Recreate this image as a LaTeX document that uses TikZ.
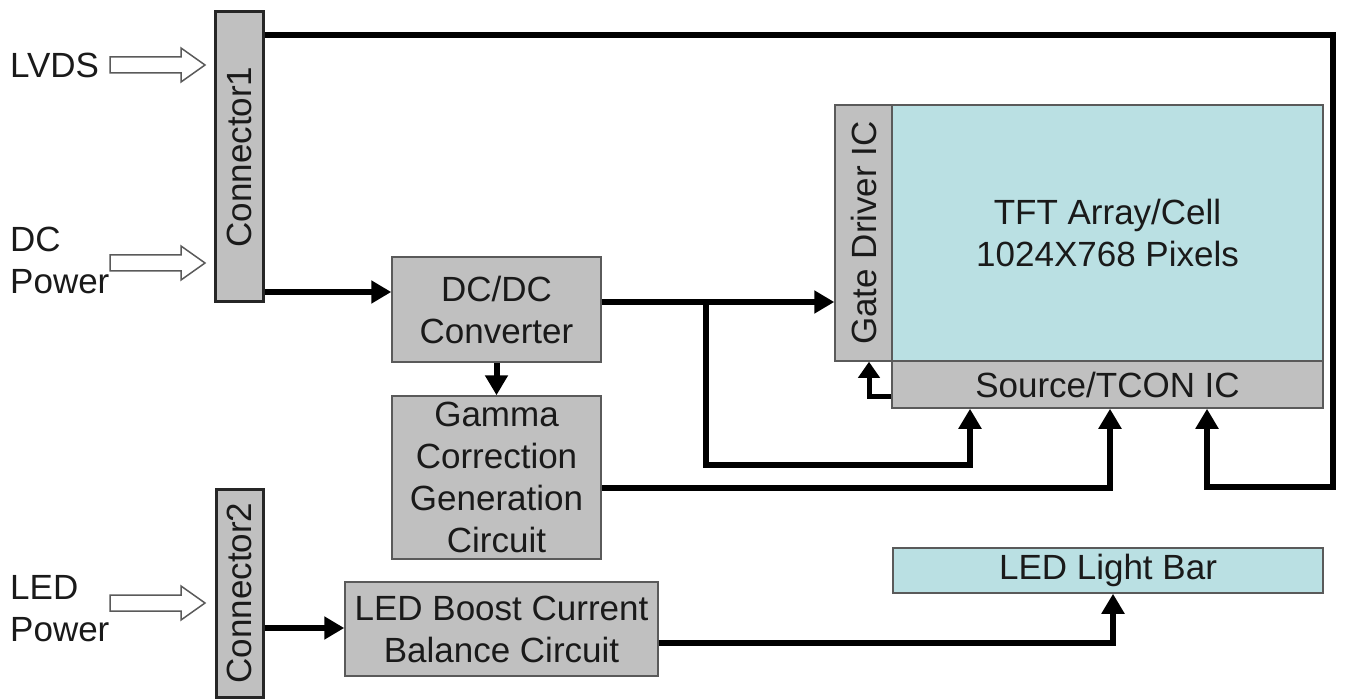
\documentclass[tikz,border=0pt]{standalone}
\usepackage{fontspec}
\setmainfont{Liberation Sans}
\usetikzlibrary{arrows.meta,calc}
\definecolor{boxgray}{HTML}{C0C0C0}
\definecolor{panelcyan}{HTML}{BAE0E3}
\definecolor{edgegray}{HTML}{5A5A5A}
\definecolor{txt}{HTML}{1A1A1A}
\begin{document}
\begin{tikzpicture}[x=1pt,y=-1pt,
  every node/.style={font=\fontsize{35}{42}\selectfont, text=txt},
  blk/.style={draw=edgegray, line width=1.5pt, fill=boxgray, inner sep=0pt, align=center},
  panel/.style={blk, fill=panelcyan},
  connbox/.style={draw=black!85, line width=3pt, fill=boxgray, inner sep=0pt},
  conn/.style={line width=6pt, -{Triangle[length=20pt,width=22pt]}},
  hollow/.style={draw=edgegray, line width=1.5pt, fill=white},
  lbl/.style={anchor=west, align=left, inner sep=0pt}
]
\useasboundingbox (0,0) rectangle (1351,700);

% boxes
\node[connbox, minimum width=48pt, minimum height=290pt] (conn1) at (239,157) {\rotatebox{90}{Connector1}};
\node[connbox, minimum width=47pt, minimum height=208pt] (conn2) at (239.5,593) {\rotatebox{90}{Connector2}};
\node[blk, minimum width=209pt, minimum height=105pt] (dcdc) at (496.5,309.5) {DC/DC\\Converter};
\node[blk, minimum width=209pt, minimum height=163pt] (gamma) at (496.5,477.5) {Gamma\\Correction\\Generation\\Circuit};
\node[blk, minimum width=313pt, minimum height=94pt] (boost) at (501.5,629) {LED Boost Current\\Balance Circuit};
\node[panel, minimum width=431pt, minimum height=256pt] (tft) at (1107.5,233) {TFT Array/Cell\\1024X768 Pixels};
\node[blk, minimum width=57pt, minimum height=256pt] (gate) at (863.5,233) {\rotatebox{90}{Gate Driver IC}};
\node[blk, minimum width=431pt, minimum height=47pt] (src) at (1107.5,384.5) {Source/TCON IC};
\node[panel, minimum width=430pt, minimum height=45pt] (bar) at (1108,570.5) {LED Light Bar};

% input labels
\node[lbl] (lvds) at (10,65) {LVDS};
\node[lbl] (dcp) at (10,260) {DC\\Power};
\node[lbl] (ledp) at (10,609) {LED\\Power};

% hollow input arrows
\draw[hollow] (205,65) ++(-95,-8) -- ++(71,0) -- ++(0,-9) -- (205,65) -- ++(-24,17) -- ++(0,-9) -- ++(-71,0) -- cycle;
\draw[hollow] (205,263) ++(-95,-8) -- ++(71,0) -- ++(0,-9) -- (205,263) -- ++(-24,17) -- ++(0,-9) -- ++(-71,0) -- cycle;
\draw[hollow] (205,603) ++(-95,-8) -- ++(71,0) -- ++(0,-9) -- (205,603) -- ++(-24,17) -- ++(0,-9) -- ++(-71,0) -- cycle;

% connectors
\coordinate (tr) at (1333,35);
\coordinate (br) at (1333,487);
\coordinate (split) at (706,302);
\coordinate (splitlow) at (706,465);
\draw[conn] (conn1.east |- tr) -- (tr) -- (br) -| (src.south -| 1207,0);
\draw[conn] (conn1.east |- 0,292) -- (dcdc.west |- 0,292);
\draw[conn] (dcdc.south) -- (gamma.north);
\draw[conn] (dcdc.east |- split) -- (gate.west |- split);
\draw[conn] (split) -- (splitlow) -| (src.south -| 970,0);
\draw[conn] (gamma.east |- 0,488) -| (src.south -| 1110,0);
\draw[line width=5pt, -{Triangle[length=16pt,width=21pt]}] (src.west |- 0,396) -| (gate.south -| 869,0);
\draw[conn] (conn2.east |- 0,628) -- (boost.west |- 0,628);
\draw[conn] (boost.east |- 0,643) -| (bar.south -| 1113,0);
\end{tikzpicture}
\end{document}
